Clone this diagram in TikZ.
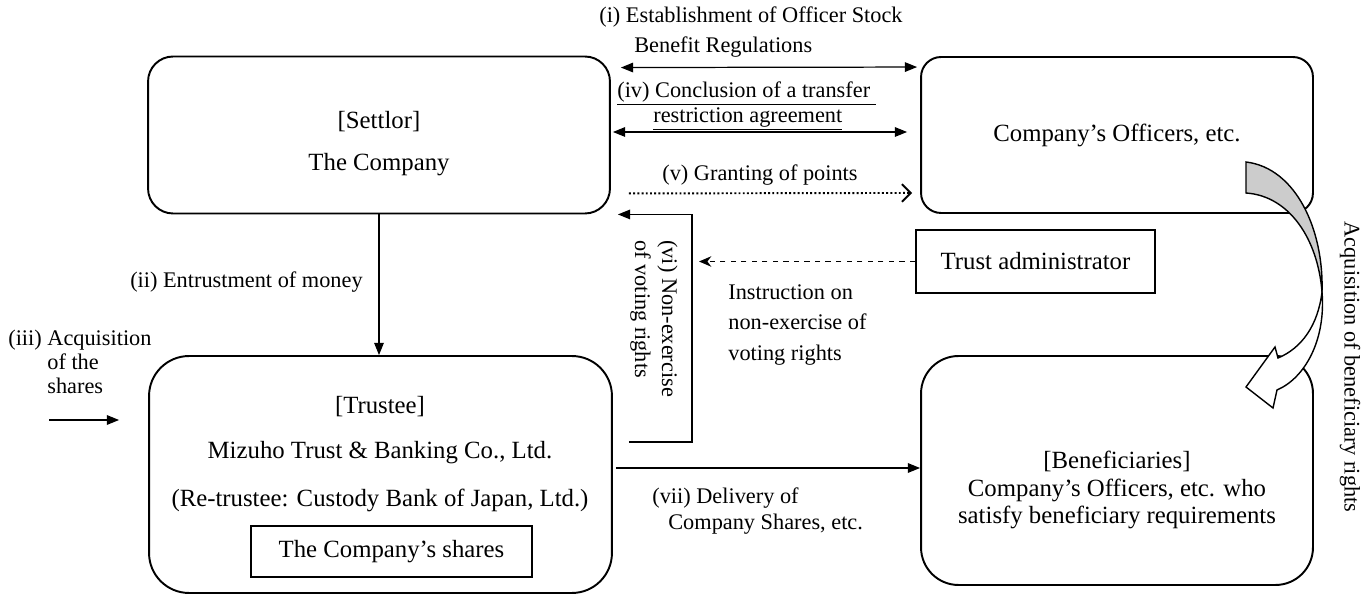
\documentclass[tikz,border=0pt]{standalone}
\usepackage{fontspec}
\setmainfont{Liberation Serif}
\usetikzlibrary{arrows.meta,calc}
\newcommand{\boxfont}{\fontsize{14.1}{17}\selectfont}
\newcommand{\lblfont}{\fontsize{12.7}{16.8}\selectfont}

\begin{document}
\begin{tikzpicture}[x=0.02cm,y=-0.02cm,
	party/.style={draw,line width=1.1pt,rounded corners=0.5cm,align=center,font=\boxfont},
	plainbox/.style={draw,line width=1.1pt,font=\boxfont},
	lbl/.style={font=\lblfont,inner sep=0pt},
	arr/.style={line width=0.7pt,-{Triangle[length=7pt,width=5.5pt]}},
	dblarr/.style={line width=0.7pt,{Triangle[length=7pt,width=5.5pt]}-{Triangle[length=7pt,width=5.5pt]}}]
	\useasboundingbox (0,0) rectangle (1370,594);
	% parties
	\node[party,minimum width=9.24cm,minimum height=3.14cm] (settlor) at (379,135) {\rule{0pt}{10.5pt}\\[-8pt][Settlor]\\[7pt]The Company};
	\node[party,minimum width=7.84cm,minimum height=3.12cm,rounded corners=0.4cm] (officers) at (1117,135) {Company’s Officers, etc.};
	\node[party,minimum width=9.26cm,minimum height=4.74cm,rounded corners=0.8cm] (trustee) at (380.5,474.5) {};
	\node[party,minimum width=7.84cm,minimum height=4.58cm,rounded corners=0.75cm] (benef) at (1117,470.5) {};
	\node[plainbox,minimum width=4.78cm,minimum height=1.26cm] (admin) at (1035.5,261.5) {Trust administrator};
	% trustee contents
	\node[font=\boxfont] (trusteeHd) at (380,407) {[Trustee]};
	\node[font=\boxfont] (trusteeNm) at (380,453) {Mizuho Trust \& Banking Co., Ltd.};
	\node[font=\boxfont] (retrustee) at (380,500) {(Re-trustee: Custody Bank of Japan, Ltd.)};
	\node[plainbox,minimum width=5.62cm,minimum height=1.02cm] (shares) at (391.5,551.5) {The Company’s shares};
	\node[align=center,font={\fontsize{14.1}{15.6}\selectfont}] (benefTxt) at (1117,490) {[Beneficiaries]\\Company’s Officers, etc. who\\satisfy beneficiary requirements};

	% arrows
	\draw[dblarr] ($(settlor.north east)+(10,12)$) -- ($(officers.north west)+(-3,11)$);
	\node[lbl,anchor=west,align=left] (lblEst) at (599,32) {(i) Establishment of Officer Stock\\\hspace*{0.7cm}Benefit Regulations};
	\draw[dblarr] ($(settlor.east)+(2,-3)$) -- ($(officers.west)+(-13,-3)$);
	\node[lbl,anchor=west,align=left] (lblAgree) at (617,106) {\underline{(iv) Conclusion of a transfer\ }\\[-2.5pt]\hspace*{0.72cm}\underline{restriction agreement}};
	\draw[line width=1.1pt,dash pattern=on 1.1pt off 1.3pt,-{Straight Barb[length=5pt,width=10pt]}] ($(settlor.south east)+(18,-21)$) -- ($(officers.south west)+(-8,-21)$);
	\node[lbl] (lblGrant) at (760,175) {(v) Granting of points};
	\draw[arr] ($(trustee.north east)+(16,87)$) -- ++(63,0) |- ($(settlor.south east)+(7,0)$);
	\node[lbl,rotate=-90,anchor=west,align=left] (lblVote) at (654,240) {(vi) Non-exercise\\[-1.5pt]of voting rights};
	\draw[line width=0.7pt,dashed,-{Stealth[length=7pt,width=6pt]}] (admin.west) -- ($(admin.west)+(-216,0)$);
	\node[lbl,anchor=west,align=left] (lblInstr) at (728,325) {Instruction on\\[0.5pt]non-exercise of\\[0.5pt]voting rights};
	\draw[arr] (settlor.south) -- (settlor.south |- trustee.north);
	\node[lbl,anchor=east] (lblMoney) at (363,282) {(ii) Entrustment of money};
	\draw[arr] ($(trustee.west)+(-99,-54.5)$) -- ($(trustee.west)+(-29,-54.5)$);
	\node[lbl,anchor=west,align=left] (lblBuy) at (8,364) {(iii) Acquisition\\[-3pt]\phantom{(iii) }of the\\[-3pt]\phantom{(iii) }shares};
	\draw[arr] ($(trustee.east)+(3,-6.5)$) -- ($(benef.west)+(0,-2.5)$);
	\node[lbl,anchor=west,align=left] (lblDeliver) at (652,511) {(vii) Delivery of\\[-1.5pt]\hspace*{0.32cm}Company Shares, etc.};

	% curved arrow
	\draw[line width=0.8pt,fill=gray!40] (1246,162) -- (1246,193) .. controls (1290,196) and (1318,240) .. (1322,292) .. controls (1324,230) and (1296,168) .. (1246,162) -- cycle;
	\draw[line width=0.8pt,fill=white] (1322,292) .. controls (1326,340) and (1305,378) .. (1277,390) -- (1273,408) -- (1246,387) -- (1275,347) -- (1278,358) .. controls (1302,348) and (1318,325) .. (1322,292) -- cycle;
	\node[lbl,rotate=-90] (lblRights) at (1350,367) {Acquisition of beneficiary rights};
\end{tikzpicture}
\end{document}
